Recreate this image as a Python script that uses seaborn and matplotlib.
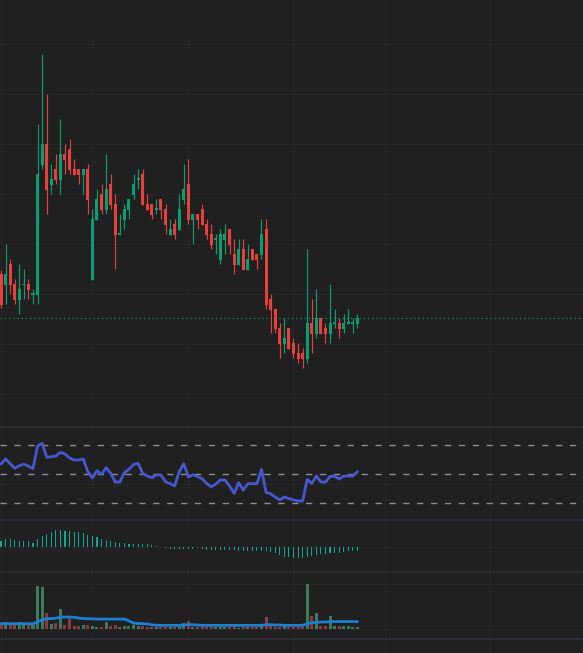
import numpy as np
import pandas as pd
import matplotlib
matplotlib.use("Agg")
import matplotlib.pyplot as plt
import seaborn as sns

# ---------------- data ----------------
opens = [6.80, 6.36, 7.20, 6.40, 5.76, 6.38, 6.40, 6.00, 5.96, 11.16,
         12.00, 10.36, 11.00, 10.56, 11.60, 11.80, 11.00, 11.00, 10.76, 11.00,
         6.56, 8.96, 10.00, 9.36, 10.40, 9.60, 8.40, 8.96, 9.36, 9.96,
         10.60, 10.80, 9.60, 9.60, 9.40, 9.80, 9.40, 8.36, 8.80, 8.56,
         9.76, 10.40, 8.96, 9.20, 9.40, 8.80, 8.40, 8.20, 7.36, 8.16,
         8.60, 7.60, 7.16, 7.80, 6.96, 7.80, 7.60, 7.56, 8.60, 5.80,
         5.40, 4.64, 4.00, 4.64, 4.04, 3.64, 3.64, 3.40, 4.84, 4.40,
         5.04, 4.64, 4.40, 4.84, 4.84, 4.60, 4.84, 4.84, 4.80]
highs = [6.96, 8.00, 7.40, 6.60, 7.20, 7.00, 6.60, 6.20, 12.80, 15.60,
         14.00, 11.20, 11.60, 13.00, 12.00, 12.20, 11.40, 11.00, 11.00, 11.20,
         9.40, 10.20, 10.40, 11.60, 10.80, 10.00, 9.20, 9.60, 9.80, 10.80,
         11.00, 11.00, 10.00, 9.60, 9.80, 9.80, 9.60, 9.00, 9.00, 10.00,
         11.20, 11.40, 9.20, 9.20, 9.60, 9.00, 8.80, 8.40, 8.60, 8.80,
         8.60, 8.20, 8.20, 8.20, 8.00, 7.80, 7.60, 9.00, 9.00, 6.00,
         5.40, 4.84, 5.04, 4.64, 4.24, 4.04, 3.84, 7.80, 5.80, 6.20,
         5.04, 4.84, 6.40, 5.40, 5.04, 5.20, 5.40, 5.04, 5.20]
lows = [5.44, 5.60, 6.00, 5.60, 5.20, 5.80, 5.80, 5.60, 5.60, 11.00,
        9.20, 10.00, 10.40, 10.00, 10.80, 10.80, 10.76, 10.40, 10.00, 9.20,
        6.56, 8.96, 9.20, 9.20, 9.40, 7.00, 8.36, 8.60, 9.00, 9.80,
        10.20, 9.56, 9.36, 9.00, 9.20, 9.00, 8.40, 8.36, 8.20, 8.56,
        9.60, 8.80, 8.00, 8.60, 8.76, 8.20, 7.80, 7.60, 7.20, 7.60,
        7.60, 6.80, 7.16, 6.96, 6.96, 7.36, 7.00, 7.40, 5.40, 4.44,
        4.44, 3.44, 3.64, 3.80, 3.44, 3.24, 3.04, 3.24, 3.64, 4.24,
        4.40, 4.04, 4.04, 4.64, 4.24, 4.44, 4.80, 4.44, 4.64]
closes = [5.56, 6.80, 6.36, 5.76, 6.20, 6.38, 6.16, 6.00, 10.80, 12.00,
          10.16, 10.60, 10.56, 11.60, 11.36, 10.96, 10.76, 10.76, 11.00, 9.76,
          9.00, 9.80, 9.36, 10.20, 9.56, 8.36, 8.40, 9.40, 9.80, 10.40,
          10.60, 9.56, 9.36, 9.16, 9.40, 9.36, 8.76, 8.60, 8.36, 9.40,
          10.20, 8.96, 9.20, 8.96, 8.76, 8.36, 7.96, 8.20, 8.40, 8.40,
          7.96, 7.16, 7.80, 6.96, 7.40, 7.36, 7.36, 8.40, 5.56, 5.36,
          4.60, 4.00, 4.24, 3.80, 3.60, 3.40, 3.40, 4.84, 4.40, 5.04,
          4.40, 4.40, 4.84, 4.84, 4.60, 4.84, 4.84, 4.84, 5.04]

rsi = [56.8, 60.3, 57.1, 53.9, 55.7, 56.8, 55.3, 53.7, 69.2, 71.0,
       61.4, 61.9, 62.3, 64.8, 63.7, 61.0, 59.6, 59.6, 60.3, 51.6,
       47.3, 52.3, 49.8, 54.3, 50.5, 44.5, 44.5, 50.9, 53.2, 56.6,
       57.3, 50.5, 48.6, 47.5, 49.3, 49.3, 44.7, 43.4, 41.8, 51.6,
       57.1, 47.9, 49.5, 48.2, 46.8, 43.6, 41.1, 43.2, 45.9, 45.9,
       41.8, 36.8, 44.1, 39.0, 43.4, 43.4, 43.4, 53.2, 37.4, 36.5,
       34.2, 32.2, 34.2, 33.1, 32.2, 31.5, 31.5, 46.3, 43.6, 48.6,
       44.5, 44.5, 48.4, 48.4, 46.6, 48.6, 48.6, 48.6, 51.6]
rsi_levels = [70, 50, 30]

macd_hist = [0.060, 0.077, 0.077, 0.067, 0.060, 0.057, 0.057, 0.043, 0.077, 0.107,
             0.127, 0.147, 0.167, 0.167, 0.157, 0.157, 0.147, 0.147, 0.137, 0.117,
             0.107, 0.097, 0.077, 0.067, 0.057, 0.047, 0.037, 0.037, 0.027, 0.027,
             0.027, 0.027, 0.027, 0.017, 0.007, 0.003, -0.013, -0.017, -0.023, -0.023,
             -0.023, -0.023, -0.023, -0.013, -0.023, -0.033, -0.033, -0.033, -0.033, -0.033,
             -0.033, -0.033, -0.043, -0.043, -0.043, -0.043, -0.043, -0.043, -0.043, -0.053,
             -0.063, -0.083, -0.103, -0.103, -0.113, -0.110, -0.113, -0.103, -0.093, -0.083,
             -0.073, -0.073, -0.063, -0.063, -0.063, -0.053, -0.043, -0.043, -0.043]

volume = [150, 210, 100, 100, 210, 100, 100, 100, 1290, 1260,
          480, 150, 180, 600, 120, 300, 90, 90, 120, 120,
          90, 60, 60, 210, 90, 120, 60, 90, 90, 120,
          90, 90, 60, 60, 60, 60, 60, 60, 60, 60,
          180, 240, 60, 60, 60, 60, 60, 60, 60, 60,
          60, 60, 30, 60, 60, 60, 60, 90, 360, 150,
          60, 60, 90, 60, 60, 60, 60, 1350, 390, 480,
          90, 90, 390, 90, 90, 90, 90, 60, 60]
volume_ma = [150, 150, 150, 150, 150, 150, 150, 145, 200, 265,
             300, 305, 315, 345, 350, 350, 340, 320, 305, 300,
             295, 290, 290, 290, 290, 290, 290, 290, 235, 170,
             155, 150, 145, 115, 105, 100, 100, 100, 100, 100,
             110, 120, 120, 110, 100, 100, 100, 100, 100, 100,
             100, 100, 100, 100, 100, 100, 100, 100, 120, 120,
             110, 110, 100, 100, 100, 100, 100, 150, 180, 190,
             200, 200, 210, 215, 215, 215, 215, 215, 210]

month_ticks = [0, 20, 41, 64, 84, 107]
price_ticks = [2, 4, 6, 8, 10, 12, 14, 16]

# ---------------- style ----------------
BG = "#202020"
GRID = "#262626"
SEP = "#2f303a"
UP = "#0a9e72"
DOWN = "#e6403f"
VOL_UP = "#3d7a5c"
VOL_DOWN = "#8c3b3f"
HIST = "#10a890"

sns.set_theme(style="dark", rc={
    "axes.facecolor": BG,
    "figure.facecolor": BG,
    "grid.color": GRID,
    "grid.linewidth": 0.75,
})

df = pd.DataFrame({"o": opens, "h": highs, "l": lows, "c": closes,
                   "rsi": rsi, "hist": macd_hist, "vol": volume, "vma": volume_ma})
df["i"] = np.arange(len(df))
up = df["c"] >= df["o"]
ccol = np.where(up, UP, DOWN)

W, H = 583, 653
fig = plt.figure(figsize=(W / 100, H / 100), dpi=100)

def add(top_px, bot_px):
    return fig.add_axes([0, 1 - bot_px / H, 1, (bot_px - top_px) / H])

ax = add(0, 427)
ax_rsi = add(427, 520)
ax_macd = add(520, 572)
ax_vol = add(572, 639)
ax_bot = add(639, 653)

XL = (-0.22, 127.35)
for a in (ax, ax_rsi, ax_macd, ax_vol, ax_bot):
    a.set_xlim(*XL)
    a.set_xticks(month_ticks)
    a.tick_params(length=0, labelbottom=False, labelleft=False)
    a.grid(True, axis="both", color=GRID, lw=0.75)
    a.set_axisbelow(True)
    for s in a.spines.values():
        s.set_visible(False)

for a in (ax_rsi, ax_macd, ax_vol, ax_bot):
    a.spines["top"].set_visible(True)
    a.spines["top"].set_color(SEP)
    a.spines["top"].set_linewidth(1.1)

# ---- candles ----
ax.vlines(df["i"], df["l"], df["h"], colors=ccol, lw=0.85, zorder=2)
body_h = np.maximum((df["c"] - df["o"]).abs(), 0.05)
body_b = np.where((df["c"] - df["o"]).abs() < 0.05, df["o"] - 0.025, np.minimum(df["o"], df["c"]))
ax.bar(df["i"], body_h, bottom=body_b, width=0.66, color=ccol, lw=0, zorder=3)
ax.axhline(closes[-1], color=UP, lw=0.8, ls=(0, (1.2, 2.6)), zorder=1)
ax.set_ylim(0.68, 17.76)
ax.set_yticks(price_ticks)

# ---- RSI ----
for lv in rsi_levels:
    ax_rsi.axhline(lv, color="#8d8f98", lw=1.0, ls=(0, (4.5, 5.5)), zorder=1)
sns.lineplot(data=df, x="i", y="rsi", ax=ax_rsi, color="#4757d0", lw=2.0, zorder=3)
ax_rsi.set_ylim(18.5, 82.2)
ax_rsi.set_yticks([43.2])

# ---- MACD histogram ----
ax_macd.bar(df["i"], df["hist"], width=0.24, color=HIST, lw=0, zorder=3)
ax_macd.set_ylim(-0.251, 0.269)
ax_macd.set_yticks([-0.004])

# ---- Volume ----
vcol = np.where(up, VOL_UP, VOL_DOWN)
ax_vol.bar(df["i"], df["vol"], width=0.66, color=vcol, lw=0, zorder=2)
sns.lineplot(data=df, x="i", y="vma", ax=ax_vol, color="#1b7fd4", lw=2.0, zorder=3)
ax_vol.set_ylim(-309, 1701)
ax_vol.set_yticks([0, 1330])

ax_bot.set_ylim(0, 1)
ax_bot.set_yticks([])

for a in (ax, ax_rsi, ax_macd, ax_vol, ax_bot):
    a.set_xlim(*XL)
    a.set_xlabel("")
    a.set_ylabel("")
    a.tick_params(length=0, labelbottom=False, labelleft=False)

fig.savefig("out.png", dpi=100, facecolor=BG)
